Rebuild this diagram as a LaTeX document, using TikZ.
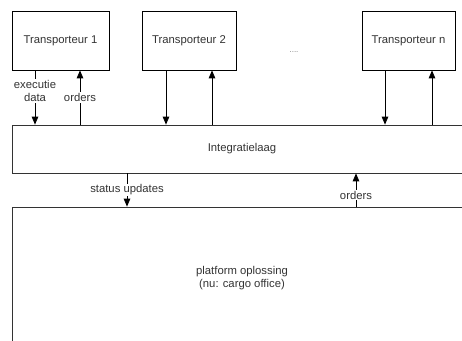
\documentclass[tikz,border=0pt]{standalone}
\usepackage{fontspec}
\setmainfont{Liberation Sans}
\usepackage{xcolor}
\usetikzlibrary{arrows}

\definecolor{txtgray}{HTML}{333333}

\begin{document}
\begin{tikzpicture}[x=1pt,y=-1pt]
\tikzset{every node/.style={font=\fontsize{11.3}{13.5}\selectfont,text=txtgray}}
\tikzset{blok/.style={draw=black,line width=0.8pt,minimum height=59pt,inner sep=0pt}}
\tikzset{laag/.style={draw=black!80,line width=0.8pt,minimum width=460pt,inner sep=0pt,align=center}}
\tikzset{flow/.style={line width=0.8pt,-triangle 45}}
\tikzset{lbl/.style={fill=white,inner sep=1pt,align=center}}

\clip (0,0) rectangle (462,340);
\useasboundingbox (0,0) rectangle (462,340);

% transporteurs
\node[blok,minimum width=97pt] (t1) at (60.5,40.5) {Transporteur 1};
\node[blok,minimum width=94pt] (t2) at (189,40.5) {Transporteur 2};
\node[blok,minimum width=93pt] (tn) at (408.5,40.5) {Transporteur n};
\node[text=black!50,font=\footnotesize] (dots) at (294,52) {....};

% lagen
\node[laag,minimum height=48pt] (il) at (242,149) {Integratielaag};
\node[laag,minimum height=142pt] (po) at (242,278) {platform oplossing\\ (nu: cargo office)};

% kolommen voor de pijlen
\coordinate (c1) at (35,0);
\coordinate (c2) at (80,0);
\coordinate (c3) at (166,0);
\coordinate (c4) at (212,0);
\coordinate (c5) at (385,0);
\coordinate (c6) at (432,0);
\coordinate (c7) at (127,0);
\coordinate (c8) at (356,0);

\draw[flow] (t1.south -| c1) -- (il.north -| c1) node[lbl,pos=0.38] {executie\\data};
\draw[flow] (il.north -| c2) -- (t1.south -| c2) node[lbl,pos=0.5] {orders};
\draw[flow] (t2.south -| c3) -- (il.north -| c3);
\draw[flow] (il.north -| c4) -- (t2.south -| c4);
\draw[flow] (tn.south -| c5) -- (il.north -| c5);
\draw[flow] (il.north -| c6) -- (tn.south -| c6);
\draw[flow] (il.south -| c7) -- (po.north -| c7) node[lbl,pos=0.5] {status updates};
\draw[flow] (po.north -| c8) -- (il.south -| c8) node[lbl,pos=0.35] {orders};

\end{tikzpicture}
\end{document}
